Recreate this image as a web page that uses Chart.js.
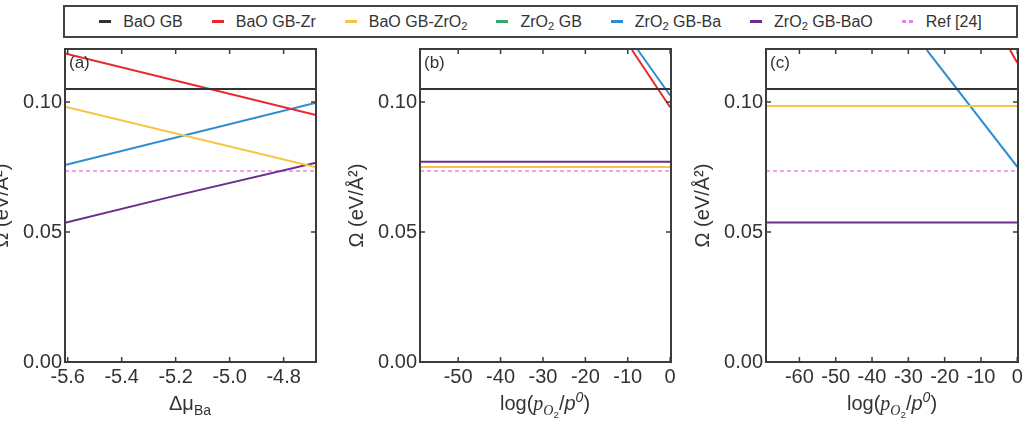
<!DOCTYPE html>
<html>
<head>
<meta charset="utf-8">
<script src="https://cdn.jsdelivr.net/npm/chart.js@4.4.1/dist/chart.umd.min.js"></script>
<style>
    body { margin: 0; width: 1029px; height: 426px; position: relative; overflow: hidden; background: #fff; font-family: "Liberation Sans", Arial, sans-serif; color: #333; }
    canvas { position: absolute; top: 40px; }
    #legenda { position: absolute; left: 63px; top: 5px; width: 955px; height: 33px; box-sizing: border-box; border: 2px solid #444; display: flex; align-items: center; justify-content: center; gap: 29px; font-size: 16px; }
    #legenda .item { display: flex; align-items: center; white-space: nowrap; }
    #legenda .marca { width: 12px; height: 2.5px; margin-right: 12px; }
    #legenda sub { font-size: 70%; line-height: 0; vertical-align: -0.3em; }
    .tituloX { position: absolute; top: 391px; font-size: 20px; line-height: 24px; transform: translateX(-50%); white-space: nowrap; }
    .tituloX sub { font-size: 70%; line-height: 0; vertical-align: -0.35em; }
    .tituloX sup { font-size: 70%; line-height: 0; vertical-align: 0.6em; }
    .mat { font-family: "Liberation Serif", "DejaVu Serif", serif; font-style: italic; }
</style>
</head>
<body>
<div id="legenda"></div>
<canvas id="painelA" width="336" height="386" style="left:-10px"></canvas>
<canvas id="painelB" width="336" height="386" style="left:345px"></canvas>
<canvas id="painelC" width="337" height="386" style="left:691px"></canvas>
<div class="tituloX" style="left:190px">&Delta;&mu;<sub>Ba</sub></div>
<div class="tituloX" style="left:545px">log(<span class="mat">p</span><sub><span class="mat">O</span><sub>2</sub></sub>/<i>p</i><sup><i>0</i></sup>)</div>
<div class="tituloX" style="left:892px">log(<span class="mat">p</span><sub><span class="mat">O</span><sub>2</sub></sub>/<i>p</i><sup><i>0</i></sup>)</div>

<script>
const fonte = '"Liberation Sans", Arial, sans-serif';

// series (same order in every panel)
const nomesSeries = ['BaO GB', 'BaO GB-Zr', 'BaO GB-ZrO2', 'ZrO2 GB', 'ZrO2 GB-Ba', 'ZrO2 GB-BaO', 'Ref [24]'];
const coresSeries = ['#333333', '#e8282d', '#f5c544', '#35a96a', '#2f8dcf', '#6b2d8f', '#e884e6'];

// y axis (all panels)
const limitesY = [0, 0.1204];
const passoY = 0.05;

// (a) Omega vs delta mu_Ba, points [x, y]
const limitesA = [-5.61, -4.68];
const aBaOGB = [[-5.61, 0.105], [-4.68, 0.105]];
const aBaOGBZr = [[-5.61, 0.1187], [-4.68, 0.0950]];
const aBaOGBZrO2 = [[-5.61, 0.0982], [-4.68, 0.0749]];
const aZrO2GB = [];
const aZrO2GBBa = [[-5.61, 0.0758], [-4.68, 0.0997]];
const aZrO2GBBaO = [[-5.61, 0.0536], [-5.2, 0.0640], [-4.68, 0.0767]];
const aRef = [[-5.61, 0.0735], [-4.68, 0.0735]];

// (b) Omega vs log(pO2/p0)
const limitesB = [-59, 0.2];
const bBaOGB = [[-59, 0.105], [0.2, 0.105]];
const bBaOGBZr = [[-9.0, 0.1200], [0, 0.0980]];
const bBaOGBZrO2 = [[-59, 0.0750], [0.2, 0.0750]];
const bZrO2GB = [];
const bZrO2GBBa = [[-7.6, 0.1200], [0, 0.1025]];
const bZrO2GBBaO = [[-59, 0.0770], [0.2, 0.0770]];
const bRef = [[-59, 0.0735], [0.2, 0.0735]];

// (c) Omega vs log(pO2/p0)
const limitesC = [-69.2, 0.2];
const cBaOGB = [[-69.2, 0.105], [0.2, 0.105]];
const cBaOGBZr = [[-2.0, 0.1200], [0, 0.1151]];
const cBaOGBZrO2 = [[-69.2, 0.0985], [0.2, 0.0985]];
const cZrO2GB = [];
const cZrO2GBBa = [[-24.9, 0.1200], [0, 0.0751]];
const cZrO2GBBaO = [[-69.2, 0.0537], [0.2, 0.0537]];
const cRef = [[-69.2, 0.0735], [0.2, 0.0735]];

function montarLegenda() {
    const div = document.getElementById('legenda');
    for (let i = 0; i < nomesSeries.length; i++) {
        const cor = coresSeries[i];
        let fundo = cor;
        if (nomesSeries[i] == 'Ref [24]') {
            fundo = `repeating-linear-gradient(90deg, ${cor} 0 4px, transparent 4px 7px)`;
        }
        div.innerHTML += `<span class="item"><span class="marca" style="background:${fundo}"></span><span>` +
            nomesSeries[i].replace(/O2/g, 'O<sub>2</sub>') + '</span></span>';
    }
}

const pluginMoldura = {
    id: 'moldura',
    afterDatasetsDraw(chart) {
        const ctx = chart.ctx;
        const area = chart.chartArea;
        const escX = chart.scales.x;
        const escY = chart.scales.y;
        ctx.save();
        ctx.strokeStyle = '#3c3c3c';
        ctx.lineWidth = 2;
        ctx.strokeRect(area.left, area.top, area.right - area.left, area.bottom - area.top);
        ctx.lineWidth = 1.5;
        ctx.beginPath();
        escX.ticks.forEach(function (t) {
            const px = escX.getPixelForValue(t.value);
            ctx.moveTo(px, area.bottom); ctx.lineTo(px, area.bottom - 5);
            ctx.moveTo(px, area.top); ctx.lineTo(px, area.top + 5);
        });
        escY.ticks.forEach(function (t) {
            const py = escY.getPixelForValue(t.value);
            ctx.moveTo(area.left, py); ctx.lineTo(area.left + 5, py);
            ctx.moveTo(area.right, py); ctx.lineTo(area.right - 5, py);
        });
        ctx.stroke();
        ctx.restore();
    }
};

const pluginRotulo = {
    id: 'rotuloPainel',
    afterDraw(chart, args, opts) {
        const ctx = chart.ctx;
        const area = chart.chartArea;
        ctx.save();
        ctx.font = '17px ' + fonte;
        ctx.fillStyle = '#333';
        ctx.textAlign = 'left';
        ctx.textBaseline = 'middle';
        ctx.fillText(opts.texto, area.left + 4, area.top + 14);
        ctx.restore();
    }
};

function plotarPainel(idCanvas, rotulo, limitesX, passoX, casasX, series) {
    const datasets = [];
    for (let i = 0; i < nomesSeries.length; i++) {
        const ehRef = nomesSeries[i] == 'Ref [24]';
        datasets.push({
            label: nomesSeries[i],
            data: series[i].map(function (p) { return { x: p[0], y: p[1] }; }),
            borderColor: coresSeries[i],
            backgroundColor: coresSeries[i],
            borderWidth: ehRef ? 1.5 : 2,
            borderDash: ehRef ? [4, 3] : [],
            pointRadius: 0,
            tension: 0,
            fill: false
        });
    }

    const config = {
        type: 'line',
        data: { datasets: datasets },
        options: {
            responsive: false,
            animation: false,
            layout: { padding: { left: 0, right: 10, top: 9, bottom: 0 } },
            plugins: {
                legend: { display: false },
                tooltip: { enabled: false },
                rotuloPainel: { texto: rotulo }
            },
            scales: {
                x: {
                    type: 'linear',
                    min: limitesX[0],
                    max: limitesX[1],
                    grid: { display: false, drawTicks: false },
                    border: { display: false },
                    ticks: {
                        stepSize: passoX,
                        includeBounds: false,
                        autoSkip: false,
                        maxRotation: 0,
                        padding: 3,
                        color: '#333',
                        font: { family: fonte, size: 20 },
                        callback: function (v) { return v.toFixed(casasX); }
                    },
                    afterFit: function (s) { s.height = 64; s.paddingLeft = 0; s.paddingRight = 0; }
                },
                y: {
                    type: 'linear',
                    min: limitesY[0],
                    max: limitesY[1],
                    grid: { display: false, drawTicks: false },
                    border: { display: false },
                    title: {
                        display: true,
                        text: 'Ω (eV/Å²)',
                        color: '#333',
                        font: { family: fonte, size: 20 },
                        padding: 0
                    },
                    ticks: {
                        stepSize: passoY,
                        includeBounds: false,
                        padding: 3,
                        color: '#333',
                        font: { family: fonte, size: 20 },
                        callback: function (v) { return v.toFixed(2); }
                    },
                    afterFit: function (s) { s.width = 75; s.paddingTop = 0; s.paddingBottom = 0; }
                }
            }
        },
        plugins: [pluginMoldura, pluginRotulo]
    };

    return new Chart(document.getElementById(idCanvas), config);
}

montarLegenda();
plotarPainel('painelA', '(a)', limitesA, 0.2, 1, [aBaOGB, aBaOGBZr, aBaOGBZrO2, aZrO2GB, aZrO2GBBa, aZrO2GBBaO, aRef]);
plotarPainel('painelB', '(b)', limitesB, 10, 0, [bBaOGB, bBaOGBZr, bBaOGBZrO2, bZrO2GB, bZrO2GBBa, bZrO2GBBaO, bRef]);
plotarPainel('painelC', '(c)', limitesC, 10, 0, [cBaOGB, cBaOGBZr, cBaOGBZrO2, cZrO2GB, cZrO2GBBa, cZrO2GBBaO, cRef]);
</script>
</body>
</html>
